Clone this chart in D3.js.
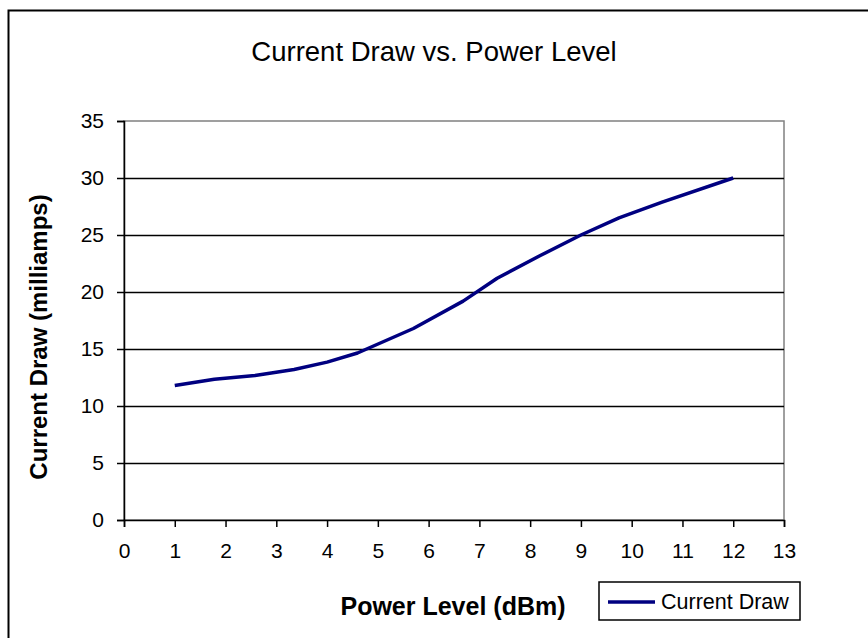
<!DOCTYPE html>
<html>
<head>
<meta charset="utf-8">
<script src="https://cdn.jsdelivr.net/npm/d3@7"></script>
<style>
  html, body { margin: 0; padding: 0; background: #fff; }
  svg { display: block; font-family: "Liberation Sans", Arial, sans-serif; }
</style>
</head>
<body>
<svg id="chart" width="868" height="638"></svg>
<script>
// ---- data ----
const powerLevel = [1, 1.78, 2.58, 3.35, 4.0, 4.6, 5.7, 6.68, 7.35, 8.2, 9.0, 9.75, 10.6, 12];
const currentDraw = [11.8, 12.35, 12.68, 13.2, 13.85, 14.65, 16.8, 19.2, 21.2, 23.2, 25.0, 26.5, 27.88, 30.0];
const xTicks = [0, 1, 2, 3, 4, 5, 6, 7, 8, 9, 10, 11, 12, 13];
const yTicks = [0, 5, 10, 15, 20, 25, 30, 35];
const seriesName = "Current Draw";
const titleText = "Current Draw vs. Power Level";
const xTitle = "Power Level (dBm)";
const yTitle = "Current Draw (milliamps)";

const svg = d3.select("#chart");
const W = 868, H = 638;
const plot = { left: 124, right: 784, top: 121, bottom: 520 };

// outer chart border
svg.append("rect").attr("x", 8.5).attr("y", 10.5).attr("width", W).attr("height", H)
  .attr("fill", "#fff").attr("stroke", "#000").attr("stroke-width", 2);

const x = d3.scaleLinear().domain([0, 13]).range([plot.left, plot.right]);
const y = d3.scaleLinear().domain([0, 35]).range([plot.bottom, plot.top]);

// plot area border (gray)
svg.append("rect").attr("x", plot.left).attr("y", plot.top)
  .attr("width", plot.right - plot.left).attr("height", plot.bottom - plot.top)
  .attr("fill", "#fff").attr("stroke", "#808080").attr("stroke-width", 1.5);

// gridlines
svg.append("g").selectAll("line").data(yTicks.filter(d => d > 0 && d < 35)).join("line")
  .attr("x1", plot.left).attr("x2", plot.right)
  .attr("y1", d => Math.round(y(d)) + 0.5).attr("y2", d => Math.round(y(d)) + 0.5)
  .attr("stroke", "#000").attr("stroke-width", 1.5);

// axes
const xAxis = d3.axisBottom(x).tickValues(xTicks).tickFormat(d3.format("d")).tickSize(7).tickPadding(16);
const yAxis = d3.axisLeft(y).tickValues(yTicks).tickFormat(d3.format("d")).tickSize(7).tickPadding(13);

const gx = svg.append("g").attr("transform", `translate(0,${plot.bottom})`).call(xAxis);
const gy = svg.append("g").attr("transform", `translate(${plot.left},0)`).call(yAxis);
[gx, gy].forEach(g => {
  g.select(".domain").attr("stroke", "#000").attr("stroke-width", 1.5);
  g.selectAll(".tick line").attr("stroke", "#000").attr("stroke-width", 1.5);
  g.selectAll(".tick text").attr("fill", "#000")
    .style("font-family", "'Liberation Sans', Arial, sans-serif").style("font-size", "21px");
});

// line
const line = d3.line().x((d, i) => x(powerLevel[i])).y(d => y(d));
svg.append("path").datum(currentDraw).attr("d", line)
  .attr("fill", "none").attr("stroke", "#000080").attr("stroke-width", 3.5)
  .attr("stroke-linejoin", "round");

// title
svg.append("text").attr("x", 434).attr("y", 61).attr("text-anchor", "middle")
  .style("font-size", "27.5px").attr("fill", "#000").text(titleText);

// axis titles
svg.append("text").attr("x", 453).attr("y", 615)
  .attr("text-anchor", "middle").style("font-size", "25px").style("font-weight", "bold")
  .text(xTitle);
svg.append("text").attr("transform", `translate(47,337) rotate(-90)`)
  .attr("text-anchor", "middle").style("font-size", "24px").style("font-weight", "bold")
  .text(yTitle);

// legend
const lg = svg.append("g").attr("transform", "translate(599,582)");
lg.append("rect").attr("width", 201).attr("height", 38).attr("fill", "#fff")
  .attr("stroke", "#000").attr("stroke-width", 1.5);
lg.append("line").attr("x1", 9).attr("x2", 56).attr("y1", 20).attr("y2", 20)
  .attr("stroke", "#000080").attr("stroke-width", 3.5);
lg.append("text").attr("x", 62).attr("y", 27).style("font-size", "21.5px").text(seriesName);
</script>
</body>
</html>
